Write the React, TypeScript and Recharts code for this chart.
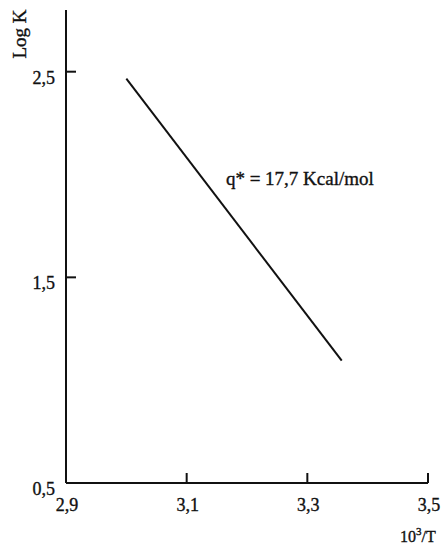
import { Line, LineChart, ReferenceDot, XAxis, YAxis } from "recharts";

const inverseTemp = [3.0, 3.357];
const logK = [2.466, 1.095];
const xTicks = [2.9, 3.1, 3.3, 3.5];
const yTicks = [0.5, 1.5, 2.5];
const slopeLabel = "q* = 17,7 Kcal/mol";

const data = inverseTemp.map((x, i) => ({ x, logK: logK[i] }));

const font = "'Liberation Serif', 'DejaVu Serif', serif";
const ink = "#111";
const heavy = { stroke: ink, strokeWidth: 0.35 };

const comma = (v: number) => v.toFixed(1).replace(".", ",");

function XTick(props: any) {
  const { x, y, payload } = props;
  return (
    <g>
      <line x1={x} x2={x} y1={y} y2={y - 10} stroke={ink} strokeWidth={2} />
      <text x={x + 1} y={y + 28} textAnchor="middle" fontFamily={font} fontSize={18} fill={ink} {...heavy}>
        {comma(payload.value)}
      </text>
    </g>
  );
}

function YTick(props: any) {
  const { x, y, payload } = props;
  return (
    <g>
      <line x1={x} x2={x + 10} y1={y} y2={y} stroke={ink} strokeWidth={2} />
      <text x={x - 11} y={y + 12} textAnchor="end" fontFamily={font} fontSize={18} fill={ink} {...heavy}>
        {comma(payload.value)}
      </text>
    </g>
  );
}

export default function App() {
  return (
    <div style={{ position: "absolute", left: 0, top: 0, background: "#fff" }}>
      <LineChart width={441} height={548} data={data} margin={{ top: 10, right: 13, left: 0, bottom: 0 }}>
        <XAxis
          dataKey="x"
          type="number"
          domain={[2.9, 3.5]}
          ticks={xTicks}
          height={65}
          tickSize={0}
          tickMargin={0}
          tickLine={false}
          tick={<XTick />}
          axisLine={{ stroke: ink, strokeWidth: 2 }}
          label={{
            content: () => (
              <text x={400} y={542} fontFamily={font} fontSize={16} fill={ink} {...heavy}>
                10<tspan dy={-7} fontSize={11}>3</tspan>
                <tspan dy={7}>/T</tspan>
              </text>
            ),
          }}
        />
        <YAxis
          type="number"
          domain={[0.5, 2.8]}
          ticks={yTicks}
          width={66}
          tickSize={0}
          tickMargin={0}
          tickLine={false}
          tick={<YTick />}
          axisLine={{ stroke: ink, strokeWidth: 2 }}
          label={{
            content: () => (
              <text
                x={26}
                y={34}
                transform="rotate(-90 26 34)"
                textAnchor="middle"
                fontFamily={font}
                fontSize={19}
                fill={ink}
                {...heavy}
              >
                Log K
              </text>
            ),
          }}
        />
        <Line
          dataKey="logK"
          stroke={ink}
          strokeWidth={2}
          dot={false}
          isAnimationActive={false}
        />
        <ReferenceDot
          x={3.165}
          y={1.95}
          r={0}
          fill="none"
          stroke="none"
          label={{
            content: (p: any) => (
              <text x={p.viewBox.x} y={p.viewBox.y} fontFamily={font} fontSize={19} fill={ink} {...heavy}>
                {slopeLabel}
              </text>
            ),
          }}
        />
      </LineChart>
    </div>
  );
}
